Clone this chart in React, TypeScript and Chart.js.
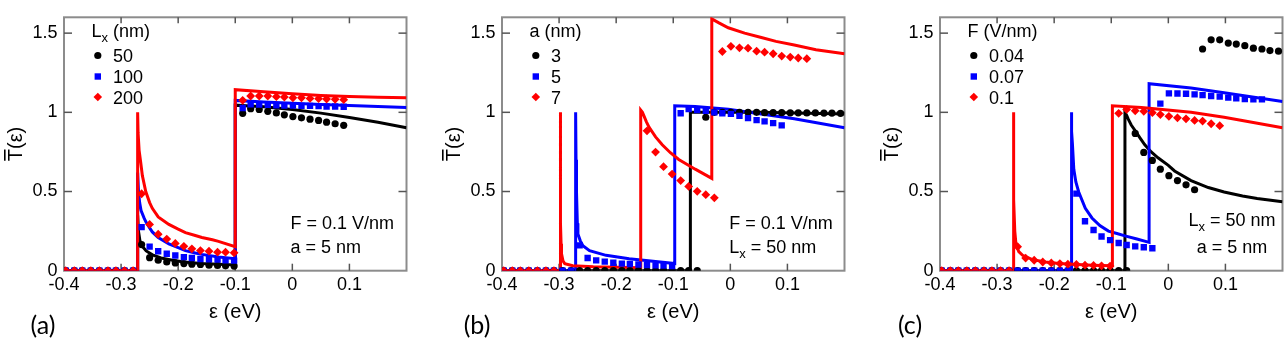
import React, { useEffect, useRef } from "react";
import { Chart, registerables } from "chart.js";
Chart.register(...registerables);

// ---------- shared axes ----------
const X_TICKS = [-0.4, -0.3, -0.2, -0.1, 0, 0.1];
const Y_TICKS = [0, 0.5, 1, 1.5];
const X_MIN = -0.4;
const X_MAX = 0.2;
const Y_MIN = 0;
const Y_MAX = 1.6;

// energies of the simulated (marker) points
const MARKER_X = [
  -0.397, -0.382, -0.368, -0.353, -0.338, -0.323, -0.309, -0.294, -0.279, -0.264,
  -0.25, -0.235, -0.22, -0.205, -0.19, -0.176, -0.161, -0.146, -0.131, -0.117,
  -0.102, -0.087, -0.073, -0.058, -0.043, -0.028, -0.014, 0.001, 0.016, 0.031,
  0.046, 0.06, 0.075, 0.09, 0.105, 0.119, 0.134, 0.149, 0.164, 0.178, 0.193,
];

// ---------- panel (a) ----------
const A_LEGEND = ["50", "100", "200"];
const A_BLACK = [0, 0, 0, 0, 0, 0, 0, 0, 0, 0.165, 0.082, 0.066, 0.055, 0.049, 0.045, 0.041, 0.039, 0.035, 0.033, 0.031, 0.029, 0.994, 1.023, 1.018, 1.006, 0.996, 0.984, 0.973, 0.965, 0.957, 0.949, 0.938, 0.928, 0.918];
const A_BLUE = [0, 0, 0, 0, 0, 0, 0, 0, 0, 0.275, 0.152, 0.123, 0.107, 0.096, 0.086, 0.08, 0.074, 0.072, 0.07, 0.066, 0.064, 1.027, 1.051, 1.049, 1.047, 1.045, 1.043, 1.043, 1.041, 1.041, 1.039, 1.037, 1.037, 1.035];
const A_RED = [0, 0, 0, 0, 0, 0, 0, 0, 0, 0.486, 0.292, 0.23, 0.2, 0.172, 0.154, 0.138, 0.127, 0.123, 0.117, 0.117, 0.113, 1.076, 1.103, 1.103, 1.103, 1.099, 1.096, 1.092, 1.092, 1.088, 1.086, 1.084, 1.082, 1.08];
const A_BLACK_LINE_X = [-0.4, -0.271, -0.271, -0.2695, -0.267, -0.263, -0.256, -0.245, -0.23, -0.21, -0.19, -0.16, -0.13, -0.1, -0.1, -0.05, 0, 0.05, 0.1, 0.15, 0.2];
const A_BLACK_LINE_Y = [0, 0, 0.35, 0.25, 0.19, 0.155, 0.125, 0.1, 0.08, 0.066, 0.055, 0.046, 0.04, 0.036, 1.045, 1.035, 1.018, 0.995, 0.967, 0.937, 0.903];
const A_BLUE_LINE_X = [-0.4, -0.271, -0.271, -0.2695, -0.2675, -0.265, -0.26, -0.2568, -0.25, -0.2453, -0.235, -0.2163, -0.2, -0.1873, -0.17, -0.1584, -0.1294, -0.1, -0.1, -0.05, 0, 0.05, 0.1, 0.15, 0.2];
const A_BLUE_LINE_Y = [0, 0, 0.62, 0.5, 0.43, 0.38, 0.335, 0.31, 0.27, 0.245, 0.21, 0.169, 0.145, 0.127, 0.112, 0.103, 0.086, 0.076, 1.075, 1.065, 1.057, 1.05, 1.043, 1.037, 1.031];
const A_RED_LINE_X = [-0.4, -0.271, -0.271, -0.2702, -0.2684, -0.2655, -0.2627, -0.2568, -0.25, -0.2453, -0.235, -0.2163, -0.2, -0.1873, -0.17, -0.1584, -0.14, -0.1294, -0.1, -0.1, -0.05, 0, 0.05, 0.1, 0.15, 0.2];
const A_RED_LINE_Y = [0, 0, 1.0, 0.87, 0.76, 0.68, 0.6, 0.5, 0.43, 0.394, 0.34, 0.292, 0.262, 0.24, 0.222, 0.21, 0.195, 0.185, 0.152, 1.143, 1.13, 1.117, 1.107, 1.1, 1.095, 1.092];

// ---------- panel (b) ----------
const B_LEGEND = ["3", "5", "7"];
const B_BLACK = [0, 0, 0, 0, 0, 0, 0, 0, 0, 0, 0, 0, 0, 0, 0, 0, 0, 0, 0, 0, 0, 0, 0, 0, 0.969, 1.0, 1.0, 1.0, 1.0, 1.0, 1.0, 0.998, 0.998, 0.998, 0.997, 0.997, 0.996, 0.996, 0.995, 0.995, 0.994];
const B_BLUE = [0, 0, 0, 0, 0, 0, 0, 0, 0, 0.16, 0.08, 0.065, 0.057, 0.05, 0.045, 0.042, 0.039, 0.036, 0.034, 0.032, 0.03, 0.994, 1.02, 1.014, 1.01, 1.0, 0.994, 0.99, 0.978, 0.963, 0.951, 0.943, 0.932, 0.918];
// points hidden in the original (not visible) are left empty
const B_RED = [0, 0, 0, 0, 0, 0, 0, null, null, null, null, null, null, null, null, null, null, 0.883, 0.749, 0.657, 0.61, 0.569, 0.532, 0.501, 0.48, 0.46, 1.384, 1.417, 1.407, 1.405, 1.386, 1.38, 1.37, 1.355, 1.349, 1.343, 1.339];
const B_BLACK_LINE_X = [-0.4, -0.07, -0.07, 0.05, 0.2];
const B_BLACK_LINE_Y = [0, 0, 1.0, 1.0, 0.99];
const B_BLUE_LINE_X = [-0.4, -0.271, -0.271, -0.2703, -0.2695, -0.268, -0.267, -0.263, -0.2583, -0.2467, -0.2177, -0.1773, -0.0974, -0.0974, -0.0615, -0.0036, 0.054, 0.112, 0.2];
const B_BLUE_LINE_Y = [0, 0, 1.0, 0.7, 0.5, 0.3, 0.232, 0.19, 0.158, 0.127, 0.097, 0.076, 0.045, 1.041, 1.037, 1.02, 0.99, 0.959, 0.903];
const B_RED_LINE_X = [-0.4, -0.298, -0.298, -0.2975, -0.2972, -0.2965, -0.2958, -0.293, -0.29, -0.276, -0.24, -0.157, -0.157, -0.154, -0.151, -0.147, -0.1425, -0.131, -0.1193, -0.105, -0.0904, -0.0615, -0.0325, -0.0325, -0.02, -0.0036, 0.025, 0.0543, 0.08, 0.112, 0.15, 0.2];
const B_RED_LINE_Y = [0, 0, 1.0, 0.55, 0.3, 0.17, 0.108, 0.06, 0.045, 0.031, 0.025, 0.019, 1.014, 1.0, 0.975, 0.94, 0.907, 0.845, 0.795, 0.745, 0.702, 0.641, 0.583, 1.59, 1.565, 1.534, 1.5, 1.472, 1.448, 1.425, 1.395, 1.37];

// ---------- panel (c) ----------
const C_LEGEND = ["0.04", "0.07", "0.1"];
const C_BLACK = [0, 0, 0, 0, 0, 0, 0, 0, 0, 0, 0, 0, 0, 0, 0, 0, 0, 0, 0, 0, 0, 0, 0, 0.867, 0.747, 0.696, 0.641, 0.6, 0.569, 0.542, 0.511, 1.4, 1.458, 1.458, 1.437, 1.431, 1.421, 1.405, 1.4, 1.39, 1.386];
const C_BLUE = [0, 0, 0, 0, 0, 0, 0, 0, 0, 0, 0, 0, 0, 0, 0, 0, 0.487, 0.312, 0.257, 0.216, 0.193, 0.175, 0.162, 0.154, 0.148, 0.142, 1.055, 1.12, 1.119, 1.117, 1.113, 1.109, 1.103, 1.099, 1.093, 1.088, 1.084, 1.082, 1.082];
const C_RED = [0, 0, 0, 0, 0, 0, 0, 0, 0, 0.152, 0.08, 0.066, 0.055, 0.049, 0.045, 0.041, 0.039, 0.035, 0.033, 0.031, 0.029, 0.994, 1.018, 1.01, 1.006, 0.998, 0.986, 0.975, 0.965, 0.959, 0.949, 0.945, 0.928, 0.916];
const C_BLACK_LINE_X = [-0.4, -0.076, -0.076, -0.073, -0.07, -0.065, -0.0586, -0.05, -0.0412, -0.03, -0.0181, 0, 0.0109, 0.0398, 0.07, 0.0977, 0.13, 0.1556, 0.2];
const C_BLACK_LINE_Y = [0, 0, 1.0, 0.98, 0.955, 0.92, 0.887, 0.84, 0.795, 0.75, 0.713, 0.665, 0.63, 0.569, 0.525, 0.497, 0.472, 0.456, 0.435];
const C_BLUE_LINE_X = [-0.4, -0.17, -0.17, -0.169, -0.168, -0.1656, -0.162, -0.157, -0.1454, -0.1338, -0.12, -0.1049, -0.09, -0.076, -0.055, -0.0337, -0.0337, 0.0398, 0.0977, 0.2];
const C_BLUE_LINE_Y = [0, 0, 1.0, 0.88, 0.8, 0.64, 0.56, 0.497, 0.394, 0.333, 0.285, 0.25, 0.235, 0.22, 0.2, 0.179, 1.181, 1.154, 1.123, 1.068];
const C_RED_LINE_X = [-0.4, -0.2715, -0.2715, -0.271, -0.2705, -0.269, -0.2669, -0.262, -0.2553, -0.238, -0.215, -0.1917, -0.1338, -0.098, -0.098, -0.047, 0.0398, 0.0977, 0.2];
const C_RED_LINE_Y = [0, 0, 1.0, 0.7, 0.45, 0.25, 0.168, 0.12, 0.097, 0.07, 0.055, 0.045, 0.035, 0.031, 1.041, 1.031, 1.0, 0.969, 0.903];

// ---------- styling ----------
const BLACK = "#000000";
const BLUE = "#0000ff";
const RED = "#ff0000";
const FONT = "'Liberation Sans', Arial, sans-serif";
const LABEL_FONT = "Lato, 'Open Sans', sans-serif";
const CANVAS_W = 411;
const CANVAS_H = 346;
const PLOT_LEFT = 64;
const PLOT_BOTTOM = 270.7;
const PLOT_TOP = 11;

type Part = { text: string; sub?: boolean };
type PanelSpec = {
  label: string;
  left: number;
  legendTitle: Part[];
  legend: string[];
  black: (number | null)[];
  blue: (number | null)[];
  red: (number | null)[];
  lines: { x: number[]; y: number[]; color: string }[];
  notes: Part[][];
  noteBaselines: number[];
  noteX: number;
  noteAlign: "left" | "center";
  labelOffset: number;
};

const PANELS: PanelSpec[] = [
  {
    label: "(a)",
    left: 0,
    legendTitle: [{ text: "L" }, { text: "x", sub: true }, { text: " (nm)" }],
    legend: A_LEGEND,
    black: A_BLACK,
    blue: A_BLUE,
    red: A_RED,
    lines: [
      { x: A_BLACK_LINE_X, y: A_BLACK_LINE_Y, color: BLACK },
      { x: A_BLUE_LINE_X, y: A_BLUE_LINE_Y, color: BLUE },
      { x: A_RED_LINE_X, y: A_RED_LINE_Y, color: RED },
    ],
    notes: [[{ text: "F = 0.1 V/nm" }], [{ text: "a = 5 nm" }]],
    noteBaselines: [229.3, 253.3],
    noteX: 226.5,
    noteAlign: "left",
    labelOffset: -21,
  },
  {
    label: "(b)",
    left: 438,
    legendTitle: [{ text: "a (nm)" }],
    legend: B_LEGEND,
    black: B_BLACK,
    blue: B_BLUE,
    red: B_RED,
    lines: [
      { x: B_BLACK_LINE_X, y: B_BLACK_LINE_Y, color: BLACK },
      { x: B_BLUE_LINE_X, y: B_BLUE_LINE_Y, color: BLUE },
      { x: B_RED_LINE_X, y: B_RED_LINE_Y, color: RED },
    ],
    notes: [[{ text: "F = 0.1 V/nm" }], [{ text: "L" }, { text: "x", sub: true }, { text: " = 50 nm" }]],
    noteBaselines: [229.3, 253.3],
    noteX: 227.3,
    noteAlign: "left",
    labelOffset: -25,
  },
  {
    label: "(c)",
    left: 876,
    legendTitle: [{ text: "F (V/nm)" }],
    legend: C_LEGEND,
    black: C_BLACK,
    blue: C_BLUE,
    red: C_RED,
    lines: [
      { x: C_BLACK_LINE_X, y: C_BLACK_LINE_Y, color: BLACK },
      { x: C_BLUE_LINE_X, y: C_BLUE_LINE_Y, color: BLUE },
      { x: C_RED_LINE_X, y: C_RED_LINE_Y, color: RED },
    ],
    notes: [[{ text: "L" }, { text: "x", sub: true }, { text: " = 50 nm" }], [{ text: "a = 5 nm" }]],
    noteBaselines: [226, 252.7],
    noteX: 292,
    noteAlign: "center",
    labelOffset: -30,
  },
];

const fmt = (v: number) => String(Math.round(v * 10) / 10);

function partsWidth(ctx: CanvasRenderingContext2D, parts: Part[], size: number) {
  let w = 0;
  for (const p of parts) {
    ctx.font = `${p.sub ? size * 0.72 : size}px ${FONT}`;
    w += ctx.measureText(p.text).width;
  }
  return w;
}

function drawParts(ctx: CanvasRenderingContext2D, parts: Part[], x: number, baseline: number, size: number) {
  let cx = x;
  ctx.textAlign = "left";
  ctx.textBaseline = "alphabetic";
  for (const p of parts) {
    const s = p.sub ? size * 0.72 : size;
    ctx.font = `${s}px ${FONT}`;
    ctx.fillText(p.text, cx, baseline + (p.sub ? 5 : 0));
    cx += ctx.measureText(p.text).width;
  }
}

function drawMarker(ctx: CanvasRenderingContext2D, kind: string, x: number, y: number, color: string) {
  ctx.fillStyle = color;
  ctx.beginPath();
  if (kind === "circle") {
    ctx.arc(x, y, 3.6, 0, Math.PI * 2);
  } else if (kind === "rect") {
    ctx.rect(x - 3.2, y - 3.2, 6.4, 6.4);
  } else {
    ctx.moveTo(x, y - 4.3);
    ctx.lineTo(x + 4.3, y);
    ctx.lineTo(x, y + 4.3);
    ctx.lineTo(x - 4.3, y);
    ctx.closePath();
  }
  ctx.fill();
}

function makeConfig(spec: PanelSpec): any {
  const markerSet = (vals: (number | null)[], color: string, style: string, radius: number, order: number) => ({
    data: vals.map((v, i) => ({ x: MARKER_X[i], y: v })),
    showLine: false,
    pointStyle: style,
    pointRadius: radius,
    pointBorderWidth: 0,
    pointBackgroundColor: color,
    pointBorderColor: color,
    backgroundColor: color,
    order,
  });
  const lineSets = spec.lines.map((l, k) => ({
    data: l.x.map((x, i) => ({ x, y: l.y[i] })),
    showLine: true,
    pointRadius: 0,
    borderWidth: 3,
    borderColor: l.color,
    borderJoinStyle: "miter",
    borderCapStyle: "butt",
    tension: 0,
    fill: false,
    order: 10 - k,
  }));

  const framePlugin = {
    id: "frame",
    beforeDatasetsDraw(chart: any) {
      const { ctx, chartArea: a, scales } = chart;
      const xs = scales.x;
      const ys = scales.y;
      ctx.save();
      ctx.strokeStyle = "#8c8c8c";
      ctx.lineWidth = 2;
      ctx.strokeRect(a.left, a.top, a.right - a.left, a.bottom - a.top);
      ctx.strokeStyle = "#555555";
      ctx.lineWidth = 1.5;
      const seg = (x1: number, y1: number, x2: number, y2: number) => {
        ctx.beginPath();
        ctx.moveTo(x1, y1);
        ctx.lineTo(x2, y2);
        ctx.stroke();
      };
      for (const v of X_TICKS) {
        const px = xs.getPixelForValue(v);
        if (Math.abs(px - a.left) < 2) continue;
        seg(px, a.bottom, px, a.bottom - 7);
        seg(px, a.top, px, a.top + 6);
      }
      for (const v of Y_TICKS) {
        const py = ys.getPixelForValue(v);
        if (Math.abs(py - a.bottom) < 2) continue;
        seg(a.left, py, a.left + 8, py);
        seg(a.right, py, a.right - 8, py);
      }
      ctx.restore();
    },
    afterDraw(chart: any) {
      const { ctx, chartArea: a } = chart;
      ctx.save();
      ctx.fillStyle = "#000";
      // legend
      drawParts(ctx, spec.legendTitle, a.left + 27.4, 37, 18);
      const kinds = ["circle", "rect", "diamond"];
      const colors = [BLACK, BLUE, RED];
      const rowY = [55.5, 76.5, 97];
      spec.legend.forEach((t, i) => {
        drawMarker(ctx, kinds[i], a.left + 33.8, rowY[i], colors[i]);
        ctx.fillStyle = "#000";
        ctx.font = `18px ${FONT}`;
        ctx.textAlign = "left";
        ctx.textBaseline = "alphabetic";
        ctx.fillText(t, a.left + 49, rowY[i] + 6.5);
      });
      // notes
      spec.notes.forEach((parts, i) => {
        let x0 = a.left + spec.noteX;
        if (spec.noteAlign === "center") x0 -= partsWidth(ctx, parts, 18) / 2;
        ctx.fillStyle = "#000";
        drawParts(ctx, parts, x0, spec.noteBaselines[i], 18);
      });
      // x title
      ctx.font = `20px ${FONT}`;
      ctx.textAlign = "center";
      ctx.textBaseline = "alphabetic";
      ctx.fillText("\u03b5 (eV)", (a.left + a.right) / 2, 318);
      // y title with overbar
      ctx.save();
      const cy = (a.top + a.bottom) / 2;
      ctx.translate(a.left - 42.5, cy);
      ctx.rotate(-Math.PI / 2);
      ctx.font = `20px ${FONT}`;
      ctx.textAlign = "left";
      ctx.textBaseline = "alphabetic";
      const full = "T(\u03b5)";
      const w = ctx.measureText(full).width;
      const tw = ctx.measureText("T").width;
      ctx.fillText(full, -w / 2, 0);
      ctx.fillRect(-w / 2 + 0.5, -14.3 - 3.2, tw - 1, 1.6);
      ctx.restore();
      // panel label
      ctx.font = `25px ${LABEL_FONT}`;
      ctx.textAlign = "center";
      ctx.textBaseline = "alphabetic";
      ctx.fillText(spec.label, a.left + spec.labelOffset, 334);
      ctx.restore();
    },
  };

  return {
    type: "scatter",
    data: {
      datasets: [
        ...lineSets,
        markerSet(spec.black, BLACK, "circle", 3.6, 3),
        markerSet(spec.blue, BLUE, "rect", 4.5, 2),
        markerSet(spec.red, RED, "rectRot", 4.4, 1),
      ],
    },
    options: {
      animation: false,
      responsive: false,
      devicePixelRatio: 1,
      events: [],
      layout: { padding: { top: PLOT_TOP, right: CANVAS_W - PLOT_LEFT - 345.5, left: 0, bottom: 0 } },
      plugins: { legend: { display: false }, tooltip: { enabled: false } },
      scales: {
        x: {
          type: "linear",
          min: X_MIN,
          max: X_MAX,
          afterBuildTicks: (s: any) => {
            s.ticks = X_TICKS.map((v) => ({ value: v }));
          },
          afterFit: (s: any) => {
            s.height = CANVAS_H - PLOT_BOTTOM;
          },
          grid: { display: false, drawTicks: false },
          border: { display: false },
          ticks: {
            autoSkip: false,
            maxRotation: 0,
            padding: 4,
            color: "#000",
            font: { family: FONT, size: 18 },
            callback: (v: number) => fmt(v),
          },
        },
        y: {
          type: "linear",
          min: Y_MIN,
          max: Y_MAX,
          afterBuildTicks: (s: any) => {
            s.ticks = Y_TICKS.map((v) => ({ value: v }));
          },
          afterFit: (s: any) => {
            s.width = PLOT_LEFT;
          },
          grid: { display: false, drawTicks: false },
          border: { display: false },
          ticks: {
            padding: 6.5,
            color: "#000",
            font: { family: FONT, size: 18 },
            callback: (v: number) => fmt(v),
          },
        },
      },
    },
    plugins: [framePlugin],
  };
}

function Panel({ spec }: { spec: PanelSpec }) {
  const ref = useRef<HTMLCanvasElement | null>(null);
  useEffect(() => {
    if (!ref.current) return;
    const chart = new Chart(ref.current, makeConfig(spec));
    return () => chart.destroy();
  }, [spec]);
  return (
    <canvas
      ref={ref}
      width={CANVAS_W}
      height={CANVAS_H}
      style={{ position: "absolute", left: spec.left, top: 0, width: CANVAS_W, height: CANVAS_H }}
    />
  );
}

export default function App() {
  return (
    <div style={{ position: "absolute", left: 0, top: 0, width: 1287, height: 346, background: "#fff", overflow: "hidden" }}>
      {PANELS.map((p) => (
        <Panel key={p.label} spec={p} />
      ))}
    </div>
  );
}
